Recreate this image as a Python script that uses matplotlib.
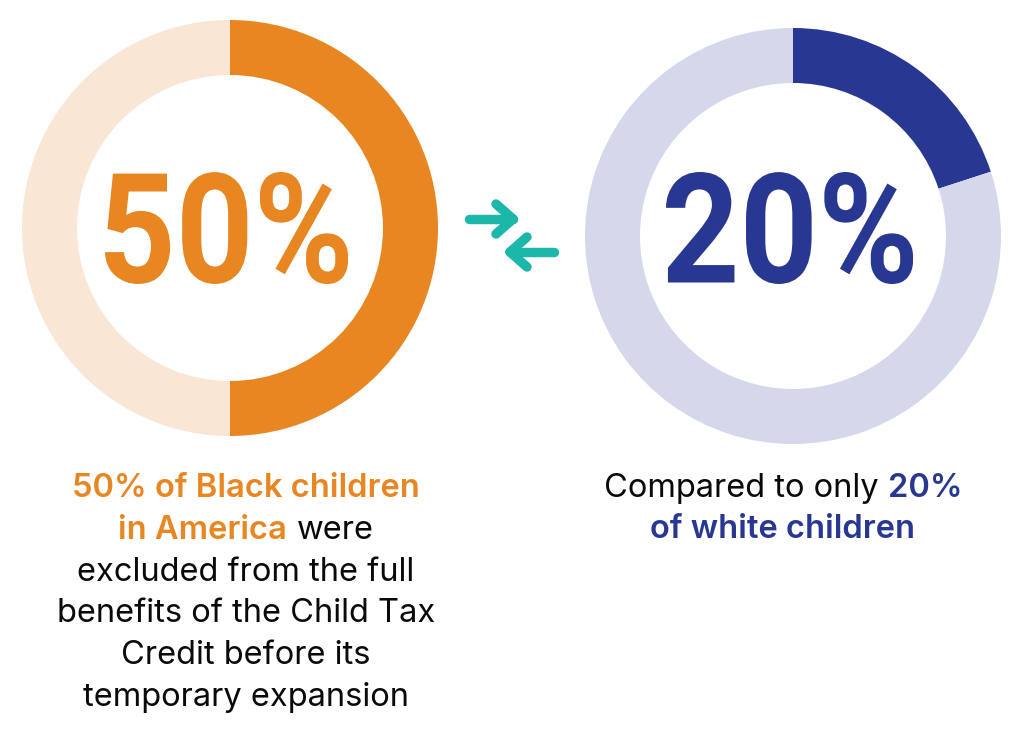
import matplotlib
matplotlib.use("Agg")
import matplotlib.pyplot as plt
from matplotlib.textpath import TextPath
from matplotlib.font_manager import FontProperties
from matplotlib.patches import PathPatch
from matplotlib.transforms import Affine2D

# data
black_share = [50, 50]      # excluded, rest
white_share = [20, 80]
big_labels = ["50%", "20%"]

ORANGE = "#E88622"
PEACH = "#FAE6D5"
BLUE = "#283892"
LAVENDER = "#D5D8EA"
TEAL = "#1BB8A9"
INK = "#0A0A0A"

W, H = 1024, 732
fig = plt.figure(figsize=(W / 100, H / 100), dpi=100)
ax = fig.add_axes([0, 0, 1, 1])


def Y(y):
    # pixel row (top-down) -> data y
    return H - y


ring = 55
R = 208
ax.pie(black_share, colors=[ORANGE, PEACH], startangle=90, counterclock=False,
       radius=R, center=(230, Y(228)), frame=True,
       wedgeprops=dict(width=ring, linewidth=0))
ax.pie(white_share, colors=[BLUE, LAVENDER], startangle=90, counterclock=False,
       radius=R, center=(793, Y(236)), frame=True,
       wedgeprops=dict(width=ring, linewidth=0))

ax.set_xlim(0, W)
ax.set_ylim(0, H)
ax.set_aspect("auto")
ax.axis("off")

# big condensed numbers: glyph outlines squeezed into their boxes
big_font = FontProperties(family="Roboto", weight="bold")
boxes = [(105, 172, 348, 284), (666, 172, 913, 284)]
for label, (x0, y0, x1, y1), col in zip(big_labels, boxes, [ORANGE, BLUE]):
    tp = TextPath((0, 0), label, size=100, prop=big_font)
    ext = tp.get_extents()
    sx = (x1 - x0) / ext.width
    sy = (y1 - y0) / ext.height
    tr = Affine2D().translate(-ext.x0, -ext.y0).scale(sx, sy).translate(x0, Y(y1))
    ax.add_patch(PathPatch(tr.transform_path(tp), fc=col, ec="none"))

# teal arrows
lw = 6.8
arrows = [
    [(469, 219), (513, 219)], [(496, 204), (513, 219)], [(496, 234), (513, 219)],
    [(554, 252), (510, 252)], [(527, 237), (510, 252)], [(527, 267), (510, 252)],
]
for seg in arrows:
    xs = [p[0] for p in seg]
    ys = [Y(p[1]) for p in seg]
    ax.plot(xs, ys, color=TEAL, lw=lw, solid_capstyle="round")

# captions with mixed styling
FS = 23.5
FAM = ["Inter", "DejaVu Sans"]
BOLD = "semibold"
left_lines = [
    [("50% of Black children", ORANGE, BOLD)],
    [("in America", ORANGE, BOLD), ("were", INK, "normal")],
    [("excluded from the full", INK, "normal")],
    [("benefits of the Child Tax", INK, "normal")],
    [("Credit before its", INK, "normal")],
    [("temporary expansion", INK, "normal")],
]
right_lines = [
    [("Compared to only", INK, "normal"), ("20%", BLUE, BOLD)],
    [("of white children", BLUE, BOLD)],
]

renderer = fig.canvas.get_renderer()


def width(s, weight):
    t = ax.text(0, 0, s, fontsize=FS, family=FAM, weight=weight)
    w = t.get_window_extent(renderer).width
    t.remove()
    return w


space_w = width("a a", "normal") - width("aa", "normal")


def draw_block(lines, cx, base0, step):
    for i, segs in enumerate(lines):
        ws = [width(s, wt) for s, _, wt in segs]
        total = sum(ws) + space_w * (len(segs) - 1)
        x = cx - total / 2
        for (s, col, wt), w in zip(segs, ws):
            ax.text(x, Y(base0 + i * step), s, fontsize=FS, family=FAM,
                    weight=wt, color=col, va="baseline", ha="left")
            x += w + space_w


draw_block(left_lines, 246, 497, 41.8)
draw_block(right_lines, 783, 497, 41.5)

fig.savefig("out.png", dpi=100, facecolor="white")
